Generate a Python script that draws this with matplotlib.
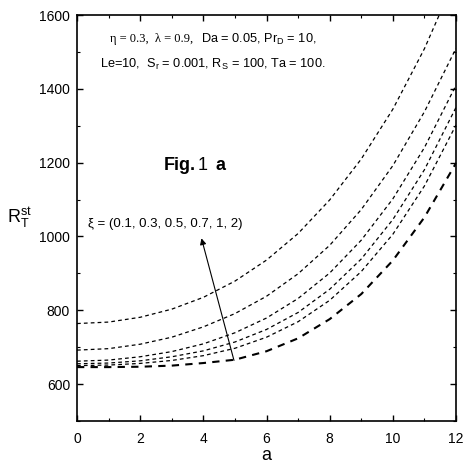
import numpy as np
from matplotlib import pyplot as plt
from matplotlib.ticker import MultipleLocator

plt.rcParams.update({'font.family': 'Liberation Sans',
                     'mathtext.fontset': 'custom',
                     'mathtext.rm': 'Liberation Sans',
                     'xtick.direction': 'in',
                     'ytick.direction': 'in',
                     'xtick.top': True,
                     'ytick.right': True,
                     })

# wave number a and R_T^st for xi = 2, 1, 0.7, 0.5, 0.3, 0.1 (top to bottom)
a_vals = [0, 1, 2, 3, 4, 5, 6, 7, 8, 9, 10, 11, 12]
r_xi_2 = [764, 768, 781, 803, 835, 879, 936, 1008, 1099, 1210, 1345, 1509, 1704]
r_xi_1 = [692, 696, 708, 727, 755, 791, 838, 899, 976, 1073, 1192, 1338, 1510]
r_xi_07 = [662, 665, 674, 688, 709, 739, 779, 832, 901, 990, 1102, 1241, 1410]
r_xi_05 = [655, 657, 663, 674, 690, 714, 748, 794, 857, 939, 1046, 1181, 1350]
r_xi_03 = [650, 651.5, 656, 664, 677, 697, 727, 769, 827, 905, 1006, 1137, 1302]
r_xi_01 = [646, 646, 647, 650, 657, 666, 689, 724, 776, 844, 935, 1052, 1199]

fig = plt.figure(figsize=(4.63, 4.70), dpi=100)
ax = fig.add_axes([0.1663, 0.1043, 0.8187, 0.8637])

for r in [r_xi_2, r_xi_1, r_xi_07, r_xi_05, r_xi_03]:
    ax.plot(a_vals, r, color="black", lw=0.9, dashes=(3, 2.5))
ax.plot(a_vals, r_xi_01, color="black", lw=1.5, dashes=(3.5, 3))

ax.annotate("", xy=(3.94, 995), xytext=(4.97, 664),
            arrowprops=dict(arrowstyle="-|>", color="black", lw=0.8,
                            mutation_scale=9, shrinkA=0, shrinkB=0))
ax.text(2.8, 1033, "ξ = (0.1, 0.3, 0.5, 0.7, 1, 2)", fontsize=9.5,
        ha="center", va="center")

ax.text(2.75, 1193, "Fig.", fontsize=13, fontweight="bold", va="center")
ax.text(3.82, 1193, "1", fontsize=13, va="center")
ax.text(4.4, 1193, "a", fontsize=13, fontweight="bold", va="center")

ax.text(1.05, 1535, "η = 0.3,  λ = 0.9,", family="Liberation Serif",
        fontsize=9, va="center")
ax.text(3.92, 1535, r"Da = 0.05, Pr$_\mathregular{D}$ = 10,", fontsize=9.2,
        va="center")
ax.text(0.72, 1467,
        r"Le=10,  S$_\mathregular{r}$ = 0.001, R$_\mathregular{S}$ = 100, Ta = 100.",
        fontsize=9.2, va="center")

ax.set_xlim(0, 12)
ax.set_ylim(500, 1600)
ax.xaxis.set_major_locator(MultipleLocator(2))
ax.xaxis.set_minor_locator(MultipleLocator(1))
ax.yaxis.set_major_locator(MultipleLocator(200))
ax.yaxis.set_minor_locator(MultipleLocator(100))
ax.set_yticks([600, 800, 1000, 1200, 1400, 1600])
ax.tick_params(which="major", length=4, width=1, labelsize=10)
ax.tick_params(axis="x", which="major", pad=8)
ax.tick_params(axis="y", which="major", pad=5)
ax.tick_params(which="minor", length=2.5, width=0.8)
for s in ax.spines.values():
    s.set_linewidth(1.2)

ax.set_xlabel("a", fontsize=13, labelpad=1)
ax.set_ylabel(r"R$^\mathregular{st}_\mathregular{T}$", fontsize=13, rotation=0,
              labelpad=14, va="center")

fig.savefig("out.png", dpi=100)
